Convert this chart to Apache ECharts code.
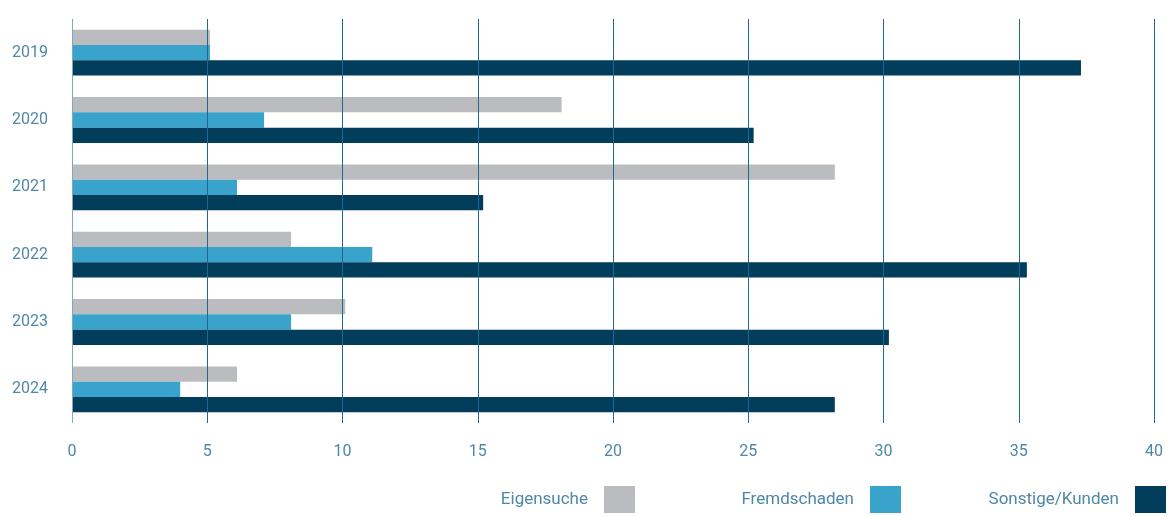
<!DOCTYPE html>
<html>
<head>
<meta charset="utf-8">
<script src="https://cdn.jsdelivr.net/npm/echarts@6/dist/echarts.min.js"></script>
<style>
  html, body { margin: 0; padding: 0; background: #fff; }
  #chart { width: 1168px; height: 516px; }
</style>
</head>
<body>
<div id="chart"></div>
<script>
    var years = ['2019', '2020', '2021', '2022', '2023', '2024'];
    var eigensuche = [5.1, 18.1, 28.2, 8.1, 10.1, 6.1];
    var fremdschaden = [5.1, 7.1, 6.1, 11.1, 8.1, 4.0];
    var sonstige = [37.3, 25.2, 15.2, 35.3, 30.2, 28.2];
    var xTicks = [0, 40, 5]; // min, max, interval

    var labelColor = '#4f88a6';
    var gridColor = '#1f6890';

    let chart = echarts.init(document.getElementById('chart'));

    function legendFor(name, right) {
        return {
            data: [{ name: name, icon: 'rect' }],
            right: right,
            bottom: -2,
            align: 'right',
            itemWidth: 31,
            itemHeight: 27,
            selectedMode: false,
            textStyle: {
                color: labelColor,
                fontSize: 17,
                fontFamily: 'Roboto',
                padding: [0, 11, 0, 0]
            }
        };
    }

    let option = {
        animation: false,
        legend: [
            legendFor('Eigensuche', 528),
            legendFor('Fremdschaden', 262),
            legendFor('Sonstige/Kunden', -3)
        ],
        grid: {
            left: 72,
            right: 14,
            top: 19,
            bottom: 93
        },
        xAxis: {
            type: 'value',
            min: xTicks[0],
            max: xTicks[1],
            interval: xTicks[2],
            z: 3,
            axisLine: { show: false },
            axisTick: { show: false },
            axisLabel: {
                color: labelColor,
                fontSize: 16,
                fontFamily: 'Roboto',
                margin: 21
            },
            splitLine: {
                show: true,
                lineStyle: {
                    color: ['#7eaac0', gridColor, gridColor, gridColor, gridColor, gridColor, gridColor, gridColor, gridColor],
                    width: 1
                }
            }
        },
        yAxis: {
            type: 'category',
            inverse: true,
            data: years,
            axisLine: { show: false },
            axisTick: { show: false },
            axisLabel: {
                color: labelColor,
                fontSize: 16,
                fontFamily: 'Roboto',
                margin: 24
            }
        },
        series: [
            {
                name: 'Eigensuche',
                type: 'bar',
                barGap: '0%',
                barCategoryGap: '32%',
                itemStyle: { color: '#bbbcc0' },
                data: eigensuche
            },
            {
                name: 'Fremdschaden',
                type: 'bar',
                itemStyle: { color: '#3aa3cc' },
                data: fremdschaden
            },
            {
                name: 'Sonstige/Kunden',
                type: 'bar',
                itemStyle: { color: '#023d5c' },
                data: sonstige
            }
        ]
    };
    chart.setOption(option);
</script>
</body>
</html>
